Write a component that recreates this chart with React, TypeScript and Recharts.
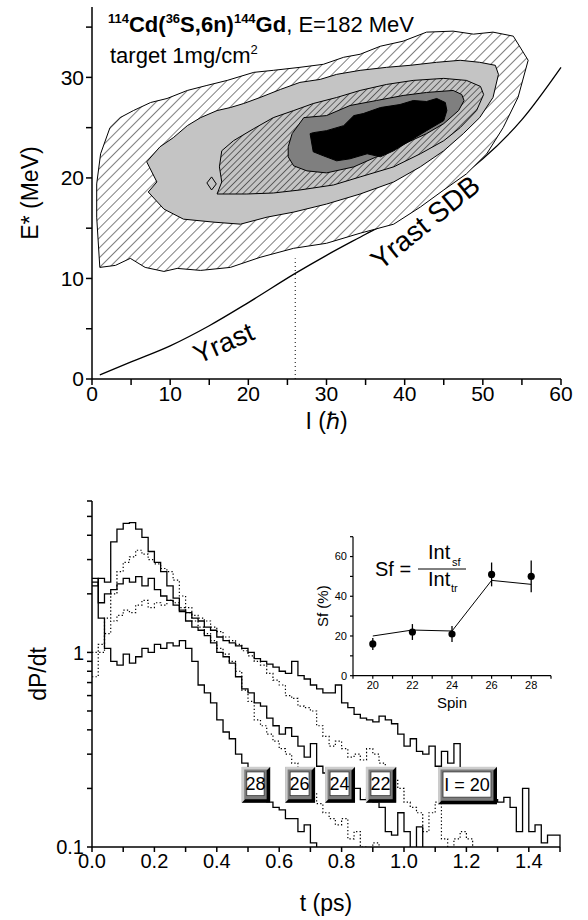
import React from 'react';
import {
  ComposedChart,
  LineChart,
  Line,
  Scatter,
  XAxis,
  YAxis,
  ReferenceLine,
  ReferenceDot,
  ReferenceArea,
  Label,
  CartesianGrid,
  ErrorBar,
} from 'recharts';

const FONT = '"Liberation Sans", Arial, Helvetica, sans-serif';

// ---------- top panel: population contours in the (I, E*) plane ----------
type Pt = [number, number];

const contourOuter: Pt[] = [
  [1.0, 11.1], [3.0, 11.3], [4.9, 12.0], [6.8, 11.1], [9.2, 10.7], [10.9, 11.0], [13.9, 10.8],
  [17.7, 11.1], [21.5, 12.1], [25.8, 13.0], [30.0, 13.5], [34.3, 14.5], [38.6, 15.4], [42.0, 17.1],
  [45.0, 18.8], [47.9, 20.4], [50.5, 22.4], [52.6, 25.0], [54.5, 28.0], [55.8, 31.7], [53.9, 34.1],
  [51.3, 34.5], [48.8, 34.3], [46.2, 34.6], [42.8, 34.5], [39.8, 33.6], [36.9, 33.1], [34.3, 32.3],
  [32.2, 32.0], [29.6, 31.3], [26.6, 31.0], [23.2, 30.7], [20.7, 30.5], [17.3, 29.7], [14.7, 29.2],
  [12.2, 28.7], [9.6, 27.9], [7.5, 27.5], [5.3, 26.7], [3.6, 26.0], [2.3, 25.0], [1.1, 22.4],
  [0.6, 19.4], [0.6, 16.1],
];

const contourLight: Pt[] = [
  [7.0, 21.6], [8.3, 19.6], [7.2, 18.6], [9.2, 16.9], [11.7, 15.9], [15.6, 15.6], [19.0, 15.4],
  [22.4, 16.1], [25.8, 16.6], [30.0, 17.4], [34.3, 18.4], [38.6, 19.6], [42.0, 21.1], [45.0, 22.7],
  [47.5, 24.4], [49.6, 26.0], [51.3, 28.0], [52.0, 30.3], [51.6, 31.2], [49.6, 31.5], [47.1, 31.7],
  [44.1, 31.5], [40.7, 31.2], [37.7, 31.0], [34.3, 30.7], [31.3, 30.3], [29.2, 29.8], [26.6, 29.5],
  [24.1, 28.8], [21.5, 28.0], [19.4, 27.4], [17.7, 27.0], [16.0, 26.7], [13.9, 26.0], [12.2, 25.2],
  [10.4, 24.0], [8.7, 23.1],
];

const contourHatched: Pt[] = [
  [16.0, 18.4], [16.6, 19.6], [16.3, 21.1], [16.6, 22.7], [18.1, 23.7], [20.7, 24.9], [23.2, 26.0],
  [25.8, 26.7], [28.3, 27.4], [31.3, 28.0], [34.3, 28.7], [37.7, 29.3], [41.1, 29.7], [45.0, 29.9],
  [47.9, 29.7], [49.7, 29.1], [50.1, 28.3], [49.2, 26.7], [47.1, 25.0], [45.0, 23.7], [42.0, 22.4],
  [38.6, 21.1], [34.3, 20.1], [30.9, 19.3], [26.6, 18.8], [23.2, 18.5], [19.8, 18.4],
];

const contourDark: Pt[] = [
  [25.1, 23.1], [25.6, 24.4], [27.1, 26.0], [30.0, 26.2], [33.0, 27.2], [36.4, 27.7], [39.8, 28.2],
  [42.8, 28.5], [46.2, 28.7], [47.3, 28.3], [47.6, 27.7], [46.9, 26.7], [45.0, 25.4], [42.8, 24.4],
  [39.4, 23.2], [36.4, 22.1], [33.5, 21.1], [30.0, 20.5], [27.5, 20.7], [25.8, 21.2], [25.1, 22.1],
];

const contourCore: Pt[] = [
  [27.9, 24.4], [28.3, 22.6], [29.6, 22.2], [31.3, 21.7], [33.0, 21.9], [35.2, 22.4], [36.9, 22.1],
  [38.6, 22.7], [40.7, 23.7], [42.8, 24.7], [45.0, 25.7], [45.4, 26.7], [45.2, 27.5], [44.1, 27.9],
  [42.8, 27.6], [41.1, 27.7], [39.4, 27.3], [36.9, 27.0], [34.7, 26.4], [33.5, 26.2], [32.2, 25.2],
  [30.0, 24.7], [28.3, 24.5],
];

const contourIsland: Pt[] = [[14.7, 19.5], [15.3, 20.1], [15.9, 19.4], [15.3, 18.8]];

const yrastCurve: Pt[] = [
  [1, 0.4], [5, 1.7], [10, 3.3], [15, 5.3], [20, 7.6], [26, 10.5], [30, 12.3], [35, 14.4],
  [40, 16.5], [45, 19.0], [50, 21.9], [55, 25.8], [60, 31.0],
];

const iTicks = [0, 5, 10, 15, 20, 25, 30, 35, 40, 45, 50, 55, 60];
const eTicks = [0, 5, 10, 15, 20, 25, 30, 35];

// ---------- bottom panel: decay curves dP/dt, bins of 0.02 ps ----------
const BIN = 0.02;
// the last entry of each list is the first empty bin (below the axis)
const dpdtI20 = [
  2.4, 1.8, 2.0, 2.1, 2.25, 2.4, 2.3, 2.45, 2.2, 2.4, 2.1, 1.95, 1.85, 1.75, 1.62, 1.6, 1.5, 1.45,
  1.35, 1.3, 1.2, 1.15, 1.12, 1.08, 1.05, 1.0, 0.93, 0.9, 0.87, 0.84, 0.8, 0.78, 0.9, 0.76, 0.73,
  0.68, 0.65, 0.62, 0.62, 0.68, 0.55, 0.52, 0.48, 0.46, 0.45, 0.44, 0.47, 0.45, 0.43, 0.38, 0.33,
  0.36, 0.31, 0.3, 0.33, 0.26, 0.31, 0.27, 0.34, 0.24, 0.22, 0.2, 0.19, 0.17, 0.175, 0.17, 0.18,
  0.16, 0.12, 0.2, 0.12, 0.13, 0.105, 0.115, 0.115, 0.05,
];
const dpdtI22 = [
  1.0, 1.1, 1.5, 2.0, 2.6, 2.9, 3.1, 3.35, 3.2, 3.0, 2.85, 2.7, 2.6, 2.35, 1.95, 1.7, 1.55, 1.5,
  1.45, 1.35, 1.28, 1.2, 1.15, 1.1, 1.02, 0.96, 0.9, 0.86, 0.78, 0.72, 0.68, 0.6, 0.58, 0.53, 0.52,
  0.5, 0.42, 0.37, 0.33, 0.35, 0.32, 0.29, 0.3, 0.28, 0.32, 0.3, 0.27, 0.24, 0.22, 0.2, 0.17, 0.16,
  0.15, 0.12, 0.15, 0.17, 0.11, 0.095, 0.11, 0.12, 0.11, 0.05,
];
const dpdtI24 = [
  2.2, 2.4, 2.3, 3.7, 4.3, 4.6, 4.65, 4.3, 3.9, 3.3, 2.9, 2.6, 2.2, 1.9, 1.65, 1.45, 1.35, 1.3,
  1.22, 1.12, 1.0, 0.95, 0.88, 0.75, 0.65, 0.62, 0.55, 0.53, 0.46, 0.42, 0.38, 0.41, 0.37, 0.33,
  0.29, 0.34, 0.26, 0.24, 0.23, 0.22, 0.22, 0.21, 0.2, 0.175, 0.18, 0.17, 0.16, 0.12, 0.115, 0.15,
  0.12, 0.09, 0.127, 0.09, 0.05,
];
const dpdtI26 = [
  0.75, 1.0, 1.25, 1.45, 1.55, 1.65, 1.6, 1.75, 1.85, 1.7, 1.8, 1.75, 1.85, 1.8, 1.7, 1.6, 1.45,
  1.35, 1.25, 1.15, 1.05, 0.98, 0.9, 0.8, 0.64, 0.56, 0.45, 0.42, 0.38, 0.35, 0.32, 0.3, 0.27,
  0.24, 0.21, 0.19, 0.167, 0.15, 0.14, 0.13, 0.14, 0.11, 0.12, 0.1, 0.095, 0.105, 0.05,
];
const dpdtI28 = [
  2.3, 1.5, 1.05, 0.9, 0.86, 0.98, 0.88, 0.95, 1.05, 1.0, 1.1, 1.05, 1.12, 1.08, 1.15, 1.05, 0.9,
  0.68, 0.62, 0.55, 0.45, 0.39, 0.36, 0.3, 0.27, 0.24, 0.21, 0.19, 0.17, 0.16, 0.155, 0.14, 0.14,
  0.12, 0.13, 0.105, 0.05,
];

const curves = [
  { name: 'I=20', values: dpdtI20, dashed: false },
  { name: 'I=22', values: dpdtI22, dashed: true },
  { name: 'I=24', values: dpdtI24, dashed: false },
  { name: 'I=26', values: dpdtI26, dashed: true },
  { name: 'I=28', values: dpdtI28, dashed: false },
];

// spin tags drawn over the curves: [text, t from, t to, dP/dt low, dP/dt high]
const spinTags: [string, number, number, number, number][] = [
  ['28', 0.48, 0.571, 0.169, 0.258],
  ['26', 0.619, 0.715, 0.169, 0.258],
  ['24', 0.747, 0.843, 0.169, 0.258],
  ['22', 0.878, 0.975, 0.169, 0.258],
  ['I = 20', 1.109, 1.298, 0.166, 0.258],
];

const tTicks = [0, 0.1, 0.2, 0.3, 0.4, 0.5, 0.6, 0.7, 0.8, 0.9, 1.0, 1.1, 1.2, 1.3, 1.4, 1.5];
const pTicks = [0.1, 0.2, 0.3, 0.4, 0.5, 0.6, 0.7, 0.8, 0.9, 1, 2, 3, 4, 5, 6];

// ---------- inset: side-feeding fraction vs spin ----------
const spins = [20, 22, 24, 26, 28];
const sfMeasured = [16, 22, 21, 51, 50];
const sfError = [3, 4, 4, 6, 8];
const sfCalc = [20, 23, 22.5, 48, 46];
const spinTicks = [19, 20, 21, 22, 23, 24, 25, 26, 27, 28, 29];
const sfTicks = [0, 10, 20, 30, 40, 50, 60, 70];

const toRows = (pts: Pt[], close: boolean) =>
  (close ? [...pts, pts[0]] : pts).map(([x, y]) => ({ x, y }));

const histRows = (values: number[]) => values.map((v, i) => ({ t: i * BIN, v }));

const noMarker = () => <g />;

const axisStyle = { stroke: '#000', strokeWidth: 1.5 };

// raised "button" look of the spin tags
function BevelTag(props: any) {
  const { x, y, width, height, text } = props;
  const lt = 2.5; // light edge
  const dk = 3.5; // shadow edge
  const r = x + width;
  const btm = y + height;
  return (
    <g>
      <rect x={x} y={y} width={width} height={height} fill="#7d7d7d" />
      <polygon
        points={`${x},${y} ${r},${y} ${r - lt},${y + lt} ${x + lt},${y + lt} ${x + lt},${btm - lt} ${x},${btm}`}
        fill="#cdcdcd"
      />
      <polygon
        points={`${r},${y} ${r},${btm} ${x},${btm} ${x + dk},${btm - dk} ${r - dk},${btm - dk} ${r - dk},${y + dk}`}
        fill="#000"
      />
      <rect x={x + 5} y={y + 5} width={width - 11} height={height - 12} fill="#fff" stroke="#333" strokeWidth={0.8} />
      <text x={x + width / 2 - 0.5} y={y + height / 2 + 5} textAnchor="middle" fontSize={18} fill="#000" fontFamily={FONT}>
        {text}
      </text>
    </g>
  );
}

function TopPanel() {
  const polygons = [
    { pts: contourOuter, fill: 'url(#hatchWide)' },
    { pts: contourLight, fill: '#c4c4c4' },
    { pts: contourHatched, fill: 'url(#hatchTight)' },
    { pts: contourDark, fill: '#7f7f7f' },
    { pts: contourCore, fill: '#000' },
    { pts: contourIsland, fill: '#c4c4c4' },
  ];
  return (
    <ComposedChart width={588} height={440} margin={{ top: 7, right: 27, bottom: 0, left: 0 }}>
      <defs>
        <pattern id="hatchWide" width={7} height={7} patternUnits="userSpaceOnUse" patternTransform="rotate(45)">
          <rect width={7} height={7} fill="#fff" />
          <line x1={0} y1={0} x2={0} y2={7} stroke="#000" strokeWidth={1} />
        </pattern>
        <pattern id="hatchTight" width={4.6} height={4.6} patternUnits="userSpaceOnUse" patternTransform="rotate(45)">
          <rect width={4.6} height={4.6} fill="#c4c4c4" />
          <line x1={0} y1={0} x2={0} y2={4.6} stroke="#000" strokeWidth={1} />
        </pattern>
      </defs>
      <XAxis
        xAxisId="b"
        type="number"
        dataKey="x"
        domain={[0, 60]}
        ticks={iTicks}
        interval={0}
        tickFormatter={(v: number) => (v % 10 === 0 ? String(v) : '')}
        height={61}
        tickSize={6}
        tickMargin={1}
        tick={{ fill: '#000', fontSize: 21 }}
        {...axisStyle}
      >
        <Label value="I (ℏ)" position="insideBottom" offset={11} fontSize={23} fill="#000" />
      </XAxis>
      <XAxis
        xAxisId="t"
        orientation="top"
        type="number"
        dataKey="x"
        domain={[0, 60]}
        ticks={iTicks}
        interval={0}
        mirror
        height={0}
        tickSize={5}
        tickFormatter={() => ''}
        {...axisStyle}
      />
      <YAxis
        yAxisId="l"
        type="number"
        dataKey="y"
        domain={[0, 37]}
        ticks={eTicks}
        interval={0}
        tickFormatter={(v: number) => (v % 10 === 0 ? String(v) : '')}
        width={92}
        tickSize={6}
        tickMargin={2}
        tick={{ fill: '#000', fontSize: 21 }}
        {...axisStyle}
      >
        <Label value="E* (MeV)" angle={-90} position="insideLeft" offset={30} fontSize={23} fill="#000" style={{ textAnchor: 'middle' }} />
      </YAxis>
      <YAxis
        yAxisId="r"
        orientation="right"
        type="number"
        dataKey="y"
        domain={[0, 37]}
        ticks={eTicks}
        interval={0}
        mirror
        width={0}
        tickSize={5}
        tickFormatter={() => ''}
        {...axisStyle}
      />
      {polygons.map((p, i) => (
        <Scatter
          key={i}
          xAxisId="b"
          yAxisId="l"
          data={toRows(p.pts, true)}
          line={{ stroke: '#000', strokeWidth: 1, fill: p.fill }}
          lineType="joint"
          shape={noMarker}
          isAnimationActive={false}
        />
      ))}
      <Line
        xAxisId="b"
        yAxisId="l"
        data={toRows(yrastCurve, false)}
        dataKey="y"
        type="monotone"
        stroke="#000"
        strokeWidth={1.3}
        dot={false}
        isAnimationActive={false}
      />
      <ReferenceLine
        xAxisId="b"
        yAxisId="l"
        segment={[{ x: 26, y: 0 }, { x: 26, y: 12 }]}
        stroke="#000"
        strokeDasharray="1 3"
      />
      <ReferenceDot
        xAxisId="b"
        yAxisId="l"
        x={16.8}
        y={3.6}
        r={0}
        label={{ value: 'Yrast', position: 'center', angle: -24, fontSize: 27, fill: '#000' }}
      />
      <ReferenceDot
        xAxisId="b"
        yAxisId="l"
        x={42.6}
        y={15.6}
        r={0}
        label={{ value: 'Yrast SDB', position: 'center', angle: -39, fontSize: 28, fill: '#000' }}
      />
    </ComposedChart>
  );
}

function BottomPanel() {
  return (
    <LineChart width={588} height={450} margin={{ top: 31, right: 28, bottom: 0, left: 0 }}>
      <XAxis
        xAxisId="b"
        type="number"
        dataKey="t"
        domain={[0, 1.5]}
        ticks={tTicks}
        interval={0}
        tickFormatter={(v: number) => (Math.round(v * 10) % 2 === 0 && v < 1.45 ? v.toFixed(1) : '')}
        height={73}
        tickSize={5}
        tickMargin={2}
        tick={{ fill: '#000', fontSize: 20 }}
        {...axisStyle}
      >
        <Label value="t (ps)" position="insideBottom" offset={9} fontSize={23} fill="#000" />
      </XAxis>
      <XAxis
        xAxisId="t"
        orientation="top"
        type="number"
        dataKey="t"
        domain={[0, 1.5]}
        ticks={tTicks}
        interval={0}
        mirror
        height={0}
        tickSize={5}
        tickFormatter={() => ''}
        {...axisStyle}
      />
      <YAxis
        yAxisId="l"
        type="number"
        scale="log"
        domain={[0.1, 6]}
        allowDataOverflow
        ticks={pTicks}
        interval={0}
        tickFormatter={(v: number) => (v === 0.1 ? '0.1' : v === 1 ? '1' : '')}
        width={92}
        tickSize={5}
        tickMargin={3}
        tick={{ fill: '#000', fontSize: 20 }}
        {...axisStyle}
      >
        <Label value="dP/dt" angle={-90} position="insideLeft" offset={38} fontSize={23} fill="#000" style={{ textAnchor: 'middle' }} />
      </YAxis>
      <YAxis
        yAxisId="r"
        orientation="right"
        type="number"
        scale="log"
        domain={[0.1, 6]}
        allowDataOverflow
        ticks={pTicks}
        interval={0}
        mirror
        width={0}
        tickSize={5}
        tickFormatter={() => ''}
        {...axisStyle}
      />
      {curves.map((c) => (
        <Line
          key={c.name}
          name={c.name}
          xAxisId="b"
          yAxisId="l"
          data={histRows(c.values)}
          dataKey="v"
          type="stepAfter"
          stroke="#000"
          strokeWidth={c.dashed ? 1.2 : 1.3}
          strokeDasharray={c.dashed ? '1.3 2.2' : undefined}
          dot={false}
          isAnimationActive={false}
        />
      ))}
    </LineChart>
  );
}

// same plot area as BottomPanel with hidden axes, so the tags sit on top of the curves
function BottomTags() {
  return (
    <LineChart width={588} height={450} margin={{ top: 31, right: 28, bottom: 73, left: 92 }}>
      <XAxis xAxisId="b" type="number" dataKey="t" domain={[0, 1.5]} hide />
      <YAxis yAxisId="l" type="number" scale="log" domain={[0.1, 6]} allowDataOverflow hide />
      <Line
        xAxisId="b"
        yAxisId="l"
        data={histRows(dpdtI20)}
        dataKey="v"
        stroke="none"
        dot={false}
        isAnimationActive={false}
      />
      {spinTags.map(([text, t1, t2, p1, p2]) => (
        <ReferenceArea
          key={text}
          xAxisId="b"
          yAxisId="l"
          x1={t1}
          x2={t2}
          y1={p1}
          y2={p2}
          ifOverflow="visible"
          shape={(p: any) => <BevelTag {...p} text={text} />}
        />
      ))}
    </LineChart>
  );
}

function Inset() {
  const points = spins.map((s, i) => ({ s, sf: sfMeasured[i], err: sfError[i] }));
  const calc = spins.map((s, i) => ({ s, sf: sfCalc[i] }));
  return (
    <ComposedChart width={260} height={200} margin={{ top: 16.7, right: 9, bottom: 0, left: 0 }}>
      <CartesianGrid xAxisId="b" yAxisId="l" horizontal={false} vertical={false} fill="#fff" fillOpacity={1} />
      <XAxis
        xAxisId="b"
        type="number"
        dataKey="s"
        domain={[19, 29]}
        ticks={spinTicks}
        interval={0}
        tickFormatter={(v: number) => (v % 2 === 0 ? String(v) : '')}
        height={44.3}
        tickSize={3}
        tickMargin={2}
        tick={{ fill: '#000', fontSize: 11 }}
        stroke="#000"
        strokeWidth={1.2}
      >
        <Label value="Spin" position="insideBottom" offset={12} fontSize={15} fill="#000" />
      </XAxis>
      <XAxis
        xAxisId="t"
        orientation="top"
        type="number"
        dataKey="s"
        domain={[19, 29]}
        ticks={spinTicks}
        interval={0}
        mirror
        height={0}
        tickSize={3}
        tickFormatter={() => ''}
        stroke="#000"
        strokeWidth={1.2}
      />
      <YAxis
        yAxisId="l"
        type="number"
        dataKey="sf"
        domain={[0, 70]}
        ticks={sfTicks}
        interval={0}
        tickFormatter={(v: number) => (v % 20 === 0 && v < 70 ? String(v) : '')}
        width={53}
        tickSize={3}
        tickMargin={3}
        tick={{ fill: '#000', fontSize: 11 }}
        stroke="#000"
        strokeWidth={1.2}
      >
        <Label value="Sf (%)" angle={-90} position="insideLeft" offset={23} fontSize={15} fill="#000" style={{ textAnchor: 'middle' }} />
      </YAxis>
      <YAxis
        yAxisId="r"
        orientation="right"
        type="number"
        dataKey="sf"
        domain={[0, 70]}
        ticks={sfTicks}
        interval={0}
        mirror
        width={0}
        tickSize={3}
        tickFormatter={() => ''}
        stroke="#000"
        strokeWidth={1.2}
      />
      <Line
        xAxisId="b"
        yAxisId="l"
        data={calc}
        dataKey="sf"
        type="linear"
        stroke="#000"
        strokeWidth={1}
        dot={false}
        isAnimationActive={false}
      />
      <Scatter
        xAxisId="b"
        yAxisId="l"
        data={points}
        fill="#000"
        shape={(p: any) => <circle cx={p.cx} cy={p.cy} r={3.6} fill="#000" />}
        isAnimationActive={false}
      >
        <ErrorBar dataKey="err" direction="y" width={0} stroke="#000" strokeWidth={1.3} />
      </Scatter>
    </ComposedChart>
  );
}

export default function App() {
  return (
    <div style={{ position: 'absolute', left: 0, top: 0, width: 588, height: 920, background: '#fff', fontFamily: FONT }}>
      <div style={{ position: 'absolute', left: 0, top: 0 }}>
        <TopPanel />
      </div>
      <div style={{ position: 'absolute', left: 0, top: 470 }}>
        <BottomPanel />
      </div>
      <div style={{ position: 'absolute', left: 0, top: 470 }}>
        <BottomTags />
      </div>
      <div style={{ position: 'absolute', left: 300, top: 520 }}>
        <Inset />
      </div>
      <svg
        width={588}
        height={920}
        style={{ position: 'absolute', left: 0, top: 0, pointerEvents: 'none' }}
        fontFamily={FONT}
      >
        <text x={108} y={32} fontSize={22} fill="#000">
          <tspan fontSize={13} fontWeight="bold" dy={-9}>114</tspan>
          <tspan fontWeight="bold" dy={9}>Cd(</tspan>
          <tspan fontSize={13} fontWeight="bold" dy={-9}>36</tspan>
          <tspan fontWeight="bold" dy={9}>S,6n)</tspan>
          <tspan fontSize={13} fontWeight="bold" dy={-9}>144</tspan>
          <tspan fontWeight="bold" dy={9}>Gd</tspan>
          <tspan>, E=182 MeV</tspan>
        </text>
        <text x={110} y={63} fontSize={22} fill="#000">
          target 1mg/cm
          <tspan fontSize={13} dy={-9}>2</tspan>
        </text>
        <text x={375} y={576} fontSize={20} fill="#000">Sf =</text>
        <text x={428} y={559} fontSize={20} fill="#000">Int</text>
        <text x={452} y={566} fontSize={11} fill="#000">sf</text>
        <line x1={418} y1={569} x2={466} y2={569} stroke="#000" strokeWidth={1} />
        <text x={428} y={586} fontSize={20} fill="#000">Int</text>
        <text x={451} y={592} fontSize={11} fill="#000">tr</text>
      </svg>
    </div>
  );
}
